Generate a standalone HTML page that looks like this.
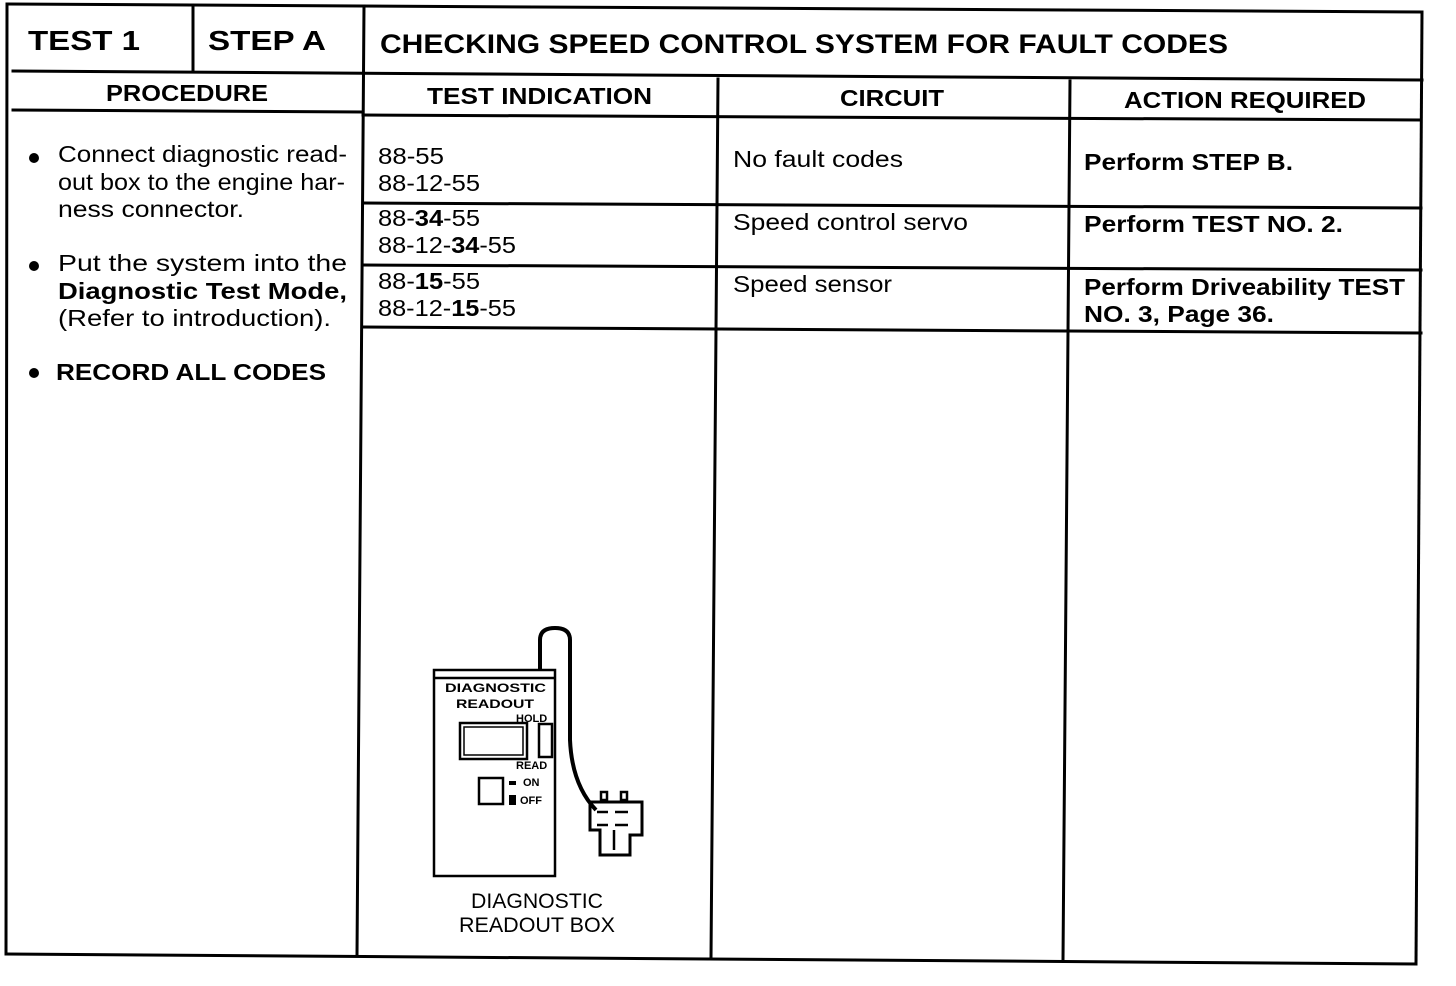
<!DOCTYPE html>
<html><head><meta charset="utf-8"><style>
html,body{margin:0;padding:0;background:#fff;}
svg{display:block}
text{font-family:"Liberation Sans",Arial,sans-serif;fill:#000}
.b{font-weight:bold}
</style></head><body>
<svg width="1456" height="986" viewBox="0 0 1456 986" xmlns="http://www.w3.org/2000/svg">
<g stroke="#000" stroke-width="3" fill="none" stroke-linecap="square">
<line x1="7" y1="4" x2="1422" y2="12"/>
<line x1="7" y1="4" x2="6" y2="954"/>
<line x1="1422" y1="12" x2="1416" y2="964"/>
<line x1="6" y1="954" x2="1416" y2="964"/>
<line x1="13" y1="71" x2="1422" y2="80"/>
<line x1="193" y1="6" x2="193" y2="71"/>
<line x1="364" y1="6" x2="357" y2="955"/>
<line x1="13" y1="110" x2="363" y2="112"/>
<line x1="363" y1="115" x2="1421" y2="120"/>
<line x1="718" y1="79" x2="711" y2="958"/>
<line x1="1070" y1="81" x2="1063" y2="960"/>
<line x1="363" y1="203" x2="1421" y2="208"/>
<line x1="363" y1="265" x2="1421" y2="270"/>
<line x1="363" y1="327" x2="1421" y2="333"/>
</g>
<g lengthAdjust="spacingAndGlyphs">
<text x="28" y="50" font-size="28" class="b" textLength="112" lengthAdjust="spacingAndGlyphs">TEST 1</text>
<text x="208" y="50" font-size="28" class="b" textLength="118" lengthAdjust="spacingAndGlyphs">STEP A</text>
<text x="380" y="53" font-size="27" class="b" textLength="848" lengthAdjust="spacingAndGlyphs">CHECKING SPEED CONTROL SYSTEM FOR FAULT CODES</text>
<text x="106" y="101" font-size="23" class="b" textLength="162" lengthAdjust="spacingAndGlyphs">PROCEDURE</text>
<text x="427" y="104" font-size="23" class="b" textLength="225" lengthAdjust="spacingAndGlyphs">TEST INDICATION</text>
<text x="840" y="106" font-size="23" class="b" textLength="104" lengthAdjust="spacingAndGlyphs">CIRCUIT</text>
<text x="1124" y="108" font-size="23" class="b" textLength="242" lengthAdjust="spacingAndGlyphs">ACTION REQUIRED</text>
</g>
<g font-size="23">
<circle cx="34" cy="158" r="5"/>
<text x="58" y="162" textLength="289" lengthAdjust="spacingAndGlyphs">Connect diagnostic read-</text>
<text x="58" y="190" textLength="287" lengthAdjust="spacingAndGlyphs">out box to the engine har-</text>
<text x="58" y="217" textLength="186" lengthAdjust="spacingAndGlyphs">ness connector.</text>
<circle cx="34" cy="266" r="5"/>
<text x="58" y="271" textLength="289" lengthAdjust="spacingAndGlyphs">Put the system into the</text>
<text x="58" y="299" class="b" textLength="289" lengthAdjust="spacingAndGlyphs">Diagnostic Test Mode,</text>
<text x="58" y="326" textLength="273" lengthAdjust="spacingAndGlyphs">(Refer to introduction).</text>
<circle cx="34" cy="373" r="5"/>
<text x="56" y="380" class="b" textLength="270" lengthAdjust="spacingAndGlyphs">RECORD ALL CODES</text>
<text x="378" y="164" textLength="66" lengthAdjust="spacingAndGlyphs">88-55</text>
<text x="378" y="191" textLength="102" lengthAdjust="spacingAndGlyphs">88-12-55</text>
<text x="378" y="226" textLength="102" lengthAdjust="spacingAndGlyphs">88-<tspan class="b">34</tspan>-55</text>
<text x="378" y="253" textLength="138" lengthAdjust="spacingAndGlyphs">88-12-<tspan class="b">34</tspan>-55</text>
<text x="378" y="289" textLength="102" lengthAdjust="spacingAndGlyphs">88-<tspan class="b">15</tspan>-55</text>
<text x="378" y="316" textLength="138" lengthAdjust="spacingAndGlyphs">88-12-<tspan class="b">15</tspan>-55</text>
<text x="733" y="167" textLength="170" lengthAdjust="spacingAndGlyphs">No fault codes</text>
<text x="733" y="230" textLength="235" lengthAdjust="spacingAndGlyphs">Speed control servo</text>
<text x="733" y="292" textLength="159" lengthAdjust="spacingAndGlyphs">Speed sensor</text>
<text x="1084" y="170" class="b" textLength="209" lengthAdjust="spacingAndGlyphs">Perform STEP B.</text>
<text x="1084" y="232" class="b" textLength="259" lengthAdjust="spacingAndGlyphs">Perform TEST NO. 2.</text>
<text x="1084" y="295" class="b" textLength="321" lengthAdjust="spacingAndGlyphs">Perform Driveability TEST</text>
<text x="1084" y="322" class="b" textLength="190" lengthAdjust="spacingAndGlyphs">NO. 3, Page 36.</text>
<text x="471" y="908" font-size="21" textLength="132" lengthAdjust="spacingAndGlyphs">DIAGNOSTIC</text>
<text x="459" y="932" font-size="21" textLength="156" lengthAdjust="spacingAndGlyphs">READOUT BOX</text>
</g>
<g stroke="#000" fill="none" stroke-width="2.5">
<rect x="434" y="670" width="121" height="206"/>
<line x1="434" y1="678" x2="555" y2="678"/>
<rect x="460" y="723" width="67" height="36"/>
<rect x="464" y="727" width="59" height="28" stroke-width="1.5"/>
<rect x="539" y="724" width="13" height="33"/>
<rect x="479" y="778" width="24" height="26"/>
<path d="M540 670 L540 640 Q540 628 555 628 Q570 628 570 640 L570 740 Q572 785 596 810" stroke-width="4"/>
<path d="M590 802 L590 830 L600 830 L600 855 L630 855 L630 835 L642 835 L642 802 Z" stroke-width="3"/>
<line x1="597" y1="812" x2="608" y2="812"/><line x1="615" y1="812" x2="628" y2="812"/>
<line x1="597" y1="825" x2="608" y2="825"/><line x1="615" y1="825" x2="628" y2="825"/>
<line x1="614" y1="830" x2="614" y2="850"/>
<rect x="601" y="792" width="6" height="8"/><rect x="621" y="792" width="6" height="8"/>
</g>
<g font-size="12" class="b">
<text x="445" y="692" textLength="101" lengthAdjust="spacingAndGlyphs">DIAGNOSTIC</text>
<text x="456" y="708" textLength="78" lengthAdjust="spacingAndGlyphs">READOUT</text>
<text x="516" y="722" font-size="11">HOLD</text>
<text x="516" y="769" font-size="11">READ</text>
<text x="523" y="786" font-size="11">ON</text>
<text x="520" y="804" font-size="11">OFF</text>
</g>
<rect x="509" y="781" width="7" height="4"/>
<rect x="509" y="795" width="7" height="10"/>
</svg>
</body></html>
